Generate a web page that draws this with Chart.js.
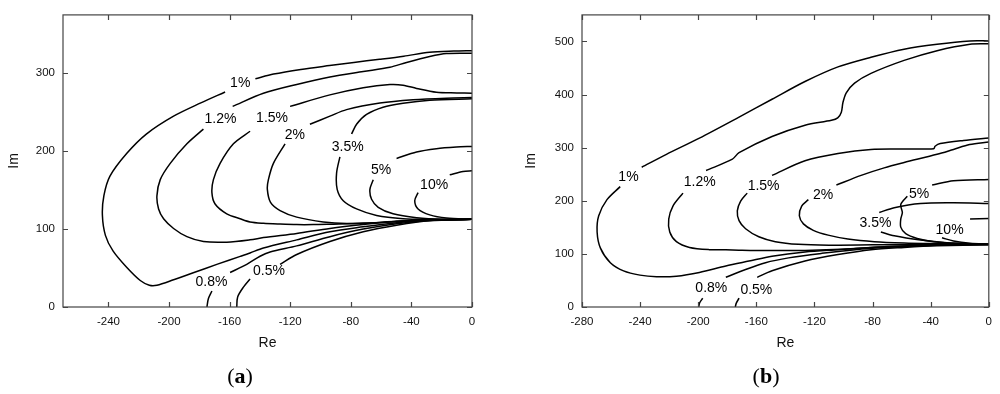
<!DOCTYPE html>
<html>
<head>
<meta charset="utf-8">
<script src="https://cdn.jsdelivr.net/npm/chart.js@4.4.0/dist/chart.umd.min.js"></script>
<style>
  body { margin: 0; background: #fff; width: 1000px; height: 394px; position: relative; overflow: hidden; }
  #boxA { position: absolute; left: 0; top: 0; width: 490px; height: 394px; }
  #boxB { position: absolute; left: 490px; top: 0; width: 510px; height: 394px; }
  .cap { position: absolute; top: 363px; width: 60px; text-align: center; font-family: "Liberation Serif", "DejaVu Serif", serif; font-size: 22px; color: #000; }
  .cap b { font-weight: bold; }
</style>
</head>
<body>
<div id="boxA"><canvas id="chartA"></canvas></div>
<div id="boxB"><canvas id="chartB"></canvas></div>
<div class="cap" style="left:210px">(<b>a</b>)</div>
<div class="cap" style="left:736px">(<b>b</b>)</div>

<script>
// ---- panel (a) : contour levels, each curve as [Re, Im] pairs, null = gap for the label
var niveisA = ["0.5%", "0.8%", "1%", "1.2%", "1.5%", "2%", "3.5%", "5%", "10%"];
var rotuloA_x = [-134, -172, -153, -166, -132, -117, -82, -60, -25];
var rotuloA_y = [46, 32, 287, 241, 243, 220, 205, 176, 157];
var ticksA_x = [-240, -200, -160, -120, -80, -40, 0];
var ticksA_y = [0, 100, 200, 300];

var a05 = [[-155.3, 0], [-154.7, 12.9], [-150.9, 25.5], [-146.5, 36], null,
  [-126.7, 54.8], [-115.7, 67.4], [-93.8, 84.1], [-71.8, 96.6], [-49.8, 105], [-27.9, 110.8], [0, 112.5]];
var a08 = [[-175, 0], [-174, 10.9], [-171.7, 20.5], null,
  [-159.7, 44.3], [-148.7, 54.8], [-139.9, 65.2], [-133.3, 70.5], [-115.7, 78.5], [-93.8, 90.3], [-71.8, 100],
  [-49.8, 107], [-27.9, 111.2], [0, 112.5]];
var a1 = [[0, 329], [-12, 328.5], [-28, 327], [-45, 322], [-61, 318], [-78, 314], [-94, 310], [-113, 305],
  [-131, 299], [-143, 293], null,
  [-163, 276], [-179, 262], [-197, 245], [-215, 222], [-228, 197], [-239, 168], [-243, 143], [-244, 118],
  [-242, 92], [-237, 72], [-228, 51], [-219, 34], [-213, 28], [-208, 28], [-197, 35], [-184, 44], [-168, 55],
  [-153, 65], [-146.5, 69.4], [-137.7, 75.7], [-115.7, 86.2], [-93.8, 96.6], [-71.8, 102.9], [-49.8, 108.3],
  [-27.9, 111.7], [0, 112.5]];
var a12 = [[0, 325.8], [-16.9, 325.4], [-27.9, 321.6], [-43.2, 314], [-54.2, 307.8], [-71.8, 302.3],
  [-93.8, 295.2], [-115.7, 285.7], [-137.7, 274.4], [-158, 257.6], null,
  [-177.3, 228.4], [-188.2, 209.5], [-199.2, 184.4], [-205.8, 163.5], [-208, 142.7], [-206.9, 125.8],
  [-203.6, 113.3], [-197, 100.8], [-188.2, 90.3], [-177.3, 84], [-161.9, 83.2], [-146.5, 86.2],
  [-137.7, 89.1], [-115.7, 94.5], [-93.8, 100.8], [-71.8, 105.8], [-49.8, 110], [-27.9, 112.1], [0, 112.5]];
var a15 = [[0, 274.4], [-10, 274.8], [-23.5, 275.6], [-36.6, 280.6], [-45.5, 284.8], [-54.2, 285.6],
  [-71.8, 281.5], [-93.8, 272.3], [-120.1, 257.6], null,
  [-146.5, 225.6], [-157.5, 209.5], [-166.3, 184.4], [-170.7, 163.5], [-171.7, 146.8], [-169.6, 132.2],
  [-161.9, 119.6], [-153.1, 113.3], [-146.5, 109.2], [-137.7, 107.5], [-126.7, 106.5], [-115.7, 105.8],
  [-104.8, 105.8], [-93.8, 106.3], [-71.8, 107.5], [-49.8, 110], [-27.9, 112], [0, 112.5]];
var a2 = [[0, 268.9], [-16.9, 268.1], [-38.9, 266], [-60.8, 261.8], [-82.8, 253.4], [-93.8, 245],
  [-107, 234.6], null,
  [-123.4, 209.5], [-131.1, 184.4], [-134.4, 163.5], [-135.1, 151], [-133, 134.3], [-126.7, 123.8],
  [-115.7, 115.4], [-98.2, 109.2], [-82.8, 107.2], [-60.8, 108.5], [-38.9, 110.8], [0, 112.5]];
var a35 = [[0, 267.3], [-27.9, 265.3], [-45.5, 261.5], [-58.7, 256.4], [-69.6, 247.2], [-76.2, 234.6],
  [-79.5, 222.1], null,
  [-87.2, 192.8], [-89.4, 171.9], [-89, 151], [-85, 136.4], [-76.2, 125.9], [-63, 117.5], [-45.5, 113.3],
  [-27.9, 112.5], [0, 112.5]];
var a5 = [[0, 206.2], [-10.3, 205.4], [-23.5, 203.3], [-36.6, 199.1], [-49.8, 190.7], null,
  [-65.2, 163.5], [-67.4, 151], [-66.3, 138.4], [-61.9, 128], [-52.1, 119.6], [-36.6, 114.6],
  [-19.1, 112.5], [0, 112.5]];
var a10 = [[0, 174.8], [-5.9, 174], [-14.7, 169.8], null,
  [-35.6, 146.8], [-37.8, 136.4], [-35.6, 125.9], [-27.9, 118.3], [-16.9, 114.2], [0, 112.5]];

// ---- panel (b)
var niveisB = ["0.5%", "0.8%", "1%", "1.2%", "1.5%", "2%", "3.5%", "5%", "10%"];
var rotuloB_x = [-160, -191, -248, -199, -155, -114, -78, -48, -27];
var rotuloB_y = [32, 35, 245, 236, 227, 211, 157, 213, 144];
var ticksB_x = [-280, -240, -200, -160, -120, -80, -40, 0];
var ticksB_y = [0, 100, 200, 300, 400, 500];

var b05 = [[-174.5, 0], [-173.8, 7.3], [-171.9, 16.5], null,
  [-159.4, 55.9], [-149.2, 68.2], [-126.5, 86.5], [-103.8, 98.7], [-81.1, 107.9], [-58.3, 112.1],
  [-35.6, 115.2], [0, 117.5]];
var b08 = [[-199.7, 0], [-199, 8], [-196.9, 16.5], null,
  [-181, 55.9], [-169.7, 68.2], [-153.7, 83.4], [-137.8, 92.5], [-115, 101], [-92, 108], [-69, 112.5],
  [-46, 115.5], [-23, 117.3], [0, 117.8]];
var b1 = [[0, 501], [-12.9, 500.9], [-35.6, 494.7], [-58.3, 485.5], [-81.1, 470.3], [-103.8, 452.1],
  [-126.5, 424.6], [-149.2, 391.2], [-171.9, 357.6], [-199.2, 318], [-221.9, 287.5], [-238.9, 263.2], null,
  [-253.7, 226.7], [-262.8, 202.2], [-268.5, 171.8], [-269.6, 141.3], [-267.3, 110.8], [-260.5, 83.4],
  [-251.4, 68], [-240.1, 60], [-228.7, 57], [-215, 58], [-199.2, 65.1], [-181, 77.3], [-165.1, 86.5],
  [-149.2, 95.6], [-126.5, 103.5], [-103.8, 107.9], [-81.1, 112.1], [-58.3, 114.4], [-35.6, 116.3], [0, 117.5]];
var b12 = [[0, 495.5], [-12.9, 494.7], [-35.6, 482.6], [-58.3, 464.3], [-81.1, 439.8], [-92.4, 421.5],
  [-98.1, 403.3], [-100.4, 385], [-101.5, 366.7], [-104, 356], [-108.3, 351.5], [-126.5, 342.4],
  [-149.2, 321], [-171.9, 290.6], [-176.5, 278.4], [-194.6, 257], null,
  [-210.5, 214.4], [-217.4, 190.1], [-220.3, 165.6], [-219.6, 141.3], [-215, 123], [-206, 112],
  [-192.4, 108], [-176.5, 107.5], [-160.5, 106.5], [-126.5, 106.5], [-97, 109], [-69.7, 113.9],
  [-35.6, 117.3], [0, 117.5]];
var b15 = [[0, 318.3], [-17.4, 313.7], [-33.4, 307.7], [-37, 302.7], [-37.9, 298], [-60, 297.5],
  [-81.1, 296.7], [-103.8, 289], [-126.5, 275.3], [-149.2, 247.9], null,
  [-166.3, 214.4], [-170.8, 199.3], [-173.1, 181], [-171.9, 162.7], [-167.4, 147.3], [-158.3, 132.2],
  [-146.9, 123], [-131, 118], [-110, 116.5], [-80, 117], [-50, 117.5], [0, 117.8]];
var b2 = [[0, 310.8], [-13.2, 305.8], [-24.3, 296.7], [-35.6, 287.5], [-58.3, 272], [-72, 262],
  [-87.9, 247.9], [-104.9, 229.6], null,
  [-124.2, 202.2], [-128.8, 190.1], [-130.4, 171.8], [-127.6, 156.5], [-120.8, 144.4], [-110.6, 135.3],
  [-97, 128], [-78.8, 123], [-58.3, 120.6], [-35.6, 119.4], [0, 118]];
var b35 = [[0, 195], [-24.3, 196.1], [-47, 194.9], [-65.1, 187], [-75.4, 177.9], null,
  [-74.3, 141.3], [-65.1, 134], [-47, 126.1], [-28.8, 121.2], [0, 118]];
var b5 = [[0, 240], [-24.3, 237.6], [-39, 229.6], null,
  [-56.1, 208.4], [-60.6, 193], [-59.5, 177.9], [-60.6, 165.6], [-60.6, 150.4], [-57.2, 138.2],
  [-49.3, 129.1], [-37.9, 123], [-19.8, 119.4], [0, 118]];
var b10 = [[0, 166.8], [-12.9, 165.6], null,
  [-32.2, 130.3], [-24.3, 124.3], [-12.9, 120], [0, 118]];

var fonte = '"Liberation Sans", Arial, sans-serif';

// Plugin: rótulos das curvas de nível
var rotulosPlugin = {
  id: "rotulos",
  afterDatasetsDraw: function (chart, args, opts) {
    var ctx = chart.ctx, sx = chart.scales.x, sy = chart.scales.y;
    ctx.save();
    ctx.font = "14px " + fonte;
    ctx.fillStyle = "#000";
    ctx.textAlign = "center";
    ctx.textBaseline = "middle";
    for (var i = 0; i < opts.texto.length; i++) {
      ctx.fillText(opts.texto[i], sx.getPixelForValue(opts.lx[i]), sy.getPixelForValue(opts.ly[i]));
    }
    ctx.restore();
  }
};

// Plugin: moldura com marcas para dentro nos quatro lados
var molduraPlugin = {
  id: "moldura",
  afterDraw: function (chart) {
    var ctx = chart.ctx, a = chart.chartArea, sx = chart.scales.x, sy = chart.scales.y;
    var L = 5;
    ctx.save();
    ctx.strokeStyle = "#444";
    ctx.lineWidth = 1.2;
    ctx.strokeRect(a.left, a.top, a.right - a.left, a.bottom - a.top);
    ctx.beginPath();
    sx.ticks.forEach(function (t) {
      var px = Math.round(sx.getPixelForValue(t.value)) + 0.5;
      ctx.moveTo(px, a.bottom); ctx.lineTo(px, a.bottom - L);
      ctx.moveTo(px, a.top); ctx.lineTo(px, a.top + L);
    });
    sy.ticks.forEach(function (t) {
      var py = Math.round(sy.getPixelForValue(t.value)) + 0.5;
      ctx.moveTo(a.left, py); ctx.lineTo(a.left + L, py);
      ctx.moveTo(a.right, py); ctx.lineTo(a.right - L, py);
    });
    ctx.stroke();
    ctx.restore();
  }
};

function montarGrafico(id, curvas, niveis, lx, ly, cfg) {
  var datasets = curvas.map(function (c, i) {
    return {
      label: niveis[i],
      data: c.map(function (p) { return p ? { x: p[0], y: p[1] } : { x: null, y: null }; }),
      showLine: true,
      spanGaps: false,
      borderColor: "#000",
      borderWidth: 1.5,
      pointRadius: 0,
      tension: 0.3,
      fill: false
    };
  });
  return new Chart(document.getElementById(id), {
    type: "scatter",
    data: { datasets: datasets },
    options: {
      responsive: true,
      maintainAspectRatio: false,
      animation: false,
      layout: { padding: cfg.pad },
      plugins: {
        legend: { display: false },
        tooltip: { enabled: false },
        rotulos: { texto: niveis, lx: lx, ly: ly }
      },
      scales: {
        x: {
          type: "linear", min: cfg.xMin, max: 0,
          afterBuildTicks: function (s) { s.ticks = cfg.xTicks.map(function (v) { return { value: v }; }); },
          afterFit: function (s) { s.height = cfg.xH; },
          grid: { display: false, drawTicks: false },
          border: { display: false },
          ticks: { padding: 8, color: "#111", maxRotation: 0, autoSkip: false, font: { family: fonte, size: 11.5 } },
          title: { display: true, text: "Re", color: "#111", font: { family: fonte, size: 14 }, padding: { top: 0, bottom: 42 } }
        },
        y: {
          type: "linear", min: 0, max: cfg.yMax,
          afterBuildTicks: function (s) { s.ticks = cfg.yTicks.map(function (v) { return { value: v }; }); },
          afterFit: function (s) { s.width = cfg.yW; },
          grid: { display: false, drawTicks: false },
          border: { display: false },
          ticks: { padding: 8, color: "#111", autoSkip: false, font: { family: fonte, size: 11.5 } },
          title: { display: true, text: "Im", color: "#111", font: { family: fonte, size: 14 }, padding: { top: cfg.imPad, bottom: 0 } }
        }
      }
    },
    plugins: [rotulosPlugin, molduraPlugin]
  });
}

montarGrafico("chartA", [a05, a08, a1, a12, a15, a2, a35, a5, a10], niveisA, rotuloA_x, rotuloA_y, {
  xMin: -270, yMax: 375, xTicks: ticksA_x, yTicks: ticksA_y,
  pad: { left: 0, top: 8, right: 18, bottom: 0 }, xH: 87, yW: 63, imPad: 6
});
montarGrafico("chartB", [b05, b08, b1, b12, b15, b2, b35, b5, b10], niveisB, rotuloB_x, rotuloB_y, {
  xMin: -280, yMax: 550, xTicks: ticksB_x, yTicks: ticksB_y,
  pad: { left: 0, top: 7, right: 8, bottom: 0 }, xH: 87, yW: 92, imPad: 33
});
</script>
</body>
</html>
